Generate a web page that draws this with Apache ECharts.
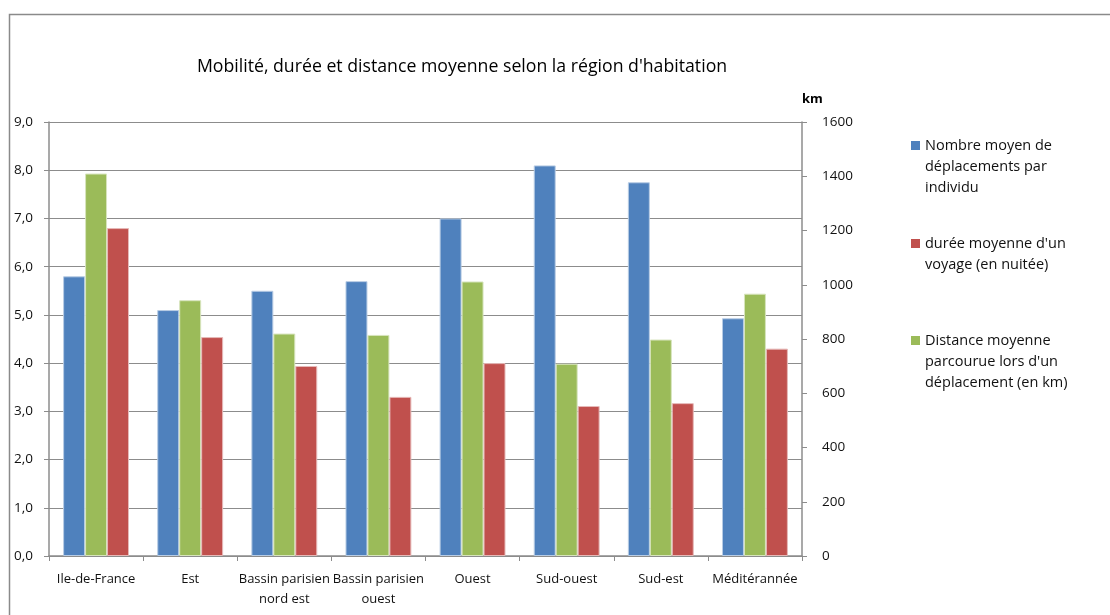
<!DOCTYPE html>
<html>
<head>
<meta charset="utf-8">
<script src="https://cdn.jsdelivr.net/npm/echarts@6/dist/echarts.min.js"></script>
<style>
  html, body { margin: 0; padding: 0; background: #fff; }
  #chart { width: 1110px; height: 615px; }
</style>
</head>
<body>
<div id="chart"></div>
<script>
// Régions d'habitation
const regions = ['Ile-de-France', 'Est', 'Bassin parisien\nnord est', 'Bassin parisien\nouest',
                 'Ouest', 'Sud-ouest', 'Sud-est', 'Méditérannée'];

// Nombre moyen de déplacements par individu (axe gauche)
const deplacements = [5.8, 5.1, 5.5, 5.7, 7.0, 8.1, 7.75, 4.93];
// Durée moyenne d'un voyage, en nuitées (axe gauche)
const duree = [6.8, 4.54, 3.94, 3.3, 4.0, 3.11, 3.17, 4.3];
// Distance moyenne parcourue lors d'un déplacement, en km (axe droit)
const distance = [1410, 943, 820, 815, 1012, 709, 798, 967];

const nameDepl = 'Nombre moyen de\ndéplacements par\nindividu';
const nameDuree = "durée moyenne d'un\nvoyage (en nuitée)";
const nameDist = "Distance moyenne\nparcourue lors d'un\ndéplacement (en km)";

const FONT = 'Open Sans';
const LINE = 21.3;
const AXIS_GREY = '#8c8c8c';

// Legend key: a 9px square sitting level with the first line of a
// multi-line label (an invisible speck below stretches the icon box).
function legendAt(name, firstLineY, lines) {
  const extra = (lines - 1) * LINE;
  const h = 9 + extra;
  return {
    data: [name],
    orient: 'vertical',
    left: 911,
    top: firstLineY - LINE / 2,
    padding: 0,
    itemWidth: 9,
    itemHeight: h,
    itemGap: 0,
    icon: 'path://M0,0h9v9h-9z M0,' + (h - 0.01) + 'h0.01v0.01h-0.01z',
    itemStyle: { borderWidth: 0 },
    selectedMode: false,
    textStyle: { fontFamily: FONT, fontSize: 14.5, color: '#111', lineHeight: LINE }
  };
}

function barStyle(color, edge) {
  return { color: color, borderColor: edge, borderWidth: 1 };
}

const chart = echarts.init(document.getElementById('chart'), null, { renderer: 'canvas' });
chart.setOption({
  backgroundColor: '#fff',
  animation: false,
  textStyle: { fontFamily: FONT },
  title: {
    text: "Mobilité, durée et distance moyenne selon la région d'habitation",
    left: 457, top: 53, textAlign: 'center',
    textStyle: { fontFamily: FONT, fontSize: 17.7, fontWeight: 'normal', color: '#000' }
  },
  graphic: [{
    type: 'polyline',
    shape: { points: [[9.5, 640], [9.5, 14.5], [1120, 14.5]] },
    style: { stroke: '#8a8a8a', lineWidth: 1.5, fill: null },
    silent: true
  }],
  legend: [
    legendAt(nameDepl, 145.5, 3),
    legendAt(nameDuree, 243.5, 2),
    legendAt(nameDist, 340.5, 3)
  ],
  grid: { left: 49, right: 308, top: 122, bottom: 59, containLabel: false },
  xAxis: {
    type: 'category',
    data: regions,
    axisLine: { lineStyle: { color: AXIS_GREY, width: 1.5 } },
    axisTick: { show: true, length: 5, alignWithLabel: false, lineStyle: { color: AXIS_GREY } },
    axisLabel: { interval: 0, margin: 13, fontSize: 13, lineHeight: 20, color: '#111', fontFamily: FONT }
  },
  yAxis: [{
    type: 'value', min: 0, max: 9, interval: 1,
    axisLine: { show: true, lineStyle: { color: AXIS_GREY, width: 1.5 } },
    axisTick: { show: true, length: 5, lineStyle: { color: AXIS_GREY } },
    axisLabel: {
      margin: 16, fontSize: 13.5, color: '#111', fontFamily: FONT,
      formatter: v => v.toFixed(1).replace('.', ',')
    },
    splitLine: { show: true, lineStyle: { color: '#8c8c8c', width: 1.2 } }
  }, {
    type: 'value', min: 0, max: 1600, interval: 200,
    name: 'km', nameLocation: 'end', nameGap: 16,
    nameTextStyle: { fontFamily: FONT, fontSize: 13, fontWeight: 'bold', color: '#000', align: 'left' },
    axisLine: { show: true, lineStyle: { color: AXIS_GREY, width: 1.5 } },
    axisTick: { show: true, length: 5, lineStyle: { color: AXIS_GREY } },
    axisLabel: { margin: 20, fontSize: 13.5, color: '#111', fontFamily: FONT, formatter: v => String(v) },
    splitLine: { show: false }
  }],
  series: [{
    name: nameDepl, type: 'bar', yAxisIndex: 0, data: deplacements,
    barGap: '0%', barCategoryGap: '30%',
    itemStyle: barStyle('#4F81BD', '#b8cce4')
  }, {
    name: nameDist, type: 'bar', yAxisIndex: 1, data: distance,
    barGap: '0%', barCategoryGap: '30%',
    itemStyle: barStyle('#9BBB59', '#d7e4bd')
  }, {
    name: nameDuree, type: 'bar', yAxisIndex: 0, data: duree,
    barGap: '0%', barCategoryGap: '30%',
    itemStyle: barStyle('#C0504D', '#e6b9b8')
  }]
});
</script>
</body>
</html>
